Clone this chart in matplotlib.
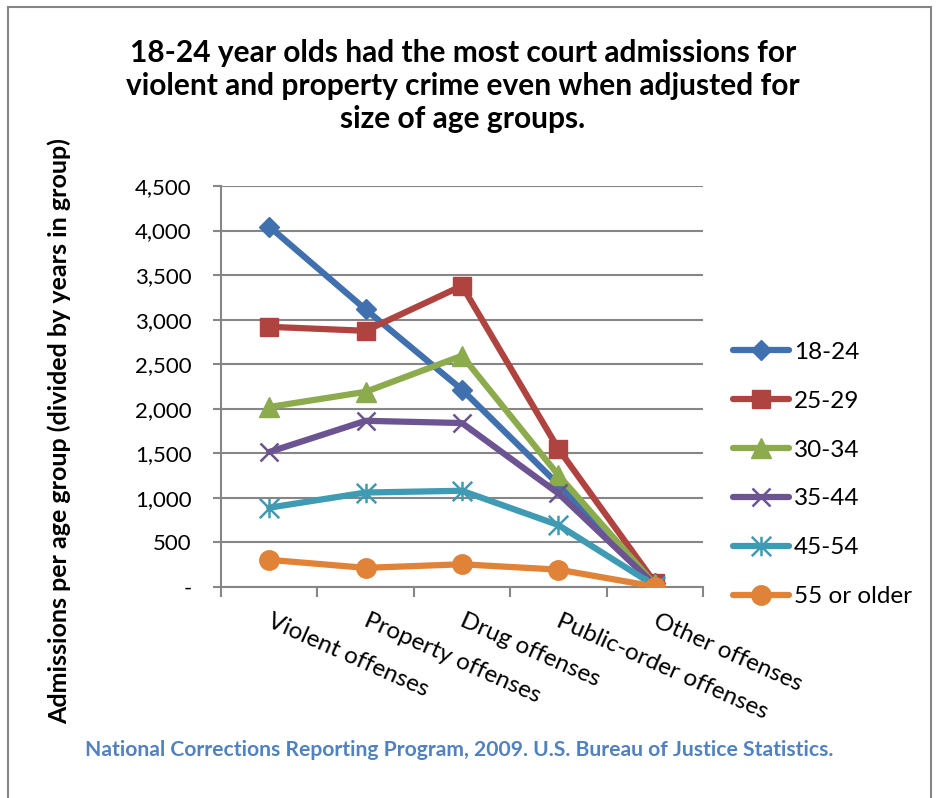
import matplotlib
matplotlib.use("Agg")
import matplotlib.pyplot as plt
from matplotlib.path import Path
from matplotlib.patches import Rectangle
from matplotlib.ticker import FuncFormatter, FixedLocator, MultipleLocator

plt.rcParams['font.family'] = ['Lato', 'DejaVu Sans']

categories = ["Violent offenses", "Property offenses", "Drug offenses",
              "Public-order offenses", "Other offenses"]
series_names = ["18-24", "25-29", "30-34", "35-44", "45-54", "55 or older"]
v_18_24 = [4045, 3115, 2215, 1150, 40]
v_25_29 = [2920, 2875, 3380, 1550, 50]
v_30_34 = [2020, 2190, 2595, 1255, 30]
v_35_44 = [1515, 1865, 1840, 1050, 25]
v_45_54 = [890, 1060, 1080, 695, 15]
v_55_up = [305, 215, 255, 195, 5]
values = [v_18_24, v_25_29, v_30_34, v_35_44, v_45_54, v_55_up]

colors = ["#4170AE", "#AE4340", "#8BAB4D", "#6C5391", "#3F9AB3", "#E08339"]

star = Path([(0, -1), (0, 1), (-1, -1), (1, 1), (-1, 1), (1, -1)],
            [Path.MOVETO, Path.LINETO, Path.MOVETO, Path.LINETO, Path.MOVETO, Path.LINETO])
markers = ["D", "s", "^", "x", star, "o"]
msizes = [10, 13, 14, 13, 14, 14]
mews = [1, 1, 1, 1.8, 1.8, 1]

W, H = 941, 798
fig = plt.figure(figsize=(W / 100, H / 100), dpi=100)
ax = fig.add_axes([221 / W, 1 - 587 / H, (703 - 221) / W, (587 - 186) / H])

x = list(range(len(categories)))
for vals, name, c, m, ms, mew in zip(values, series_names, colors, markers, msizes, mews):
    ax.plot(x, vals, color=c, lw=4.5, marker=m, markersize=ms,
            markerfacecolor=c, markeredgecolor=c, markeredgewidth=mew,
            label=name, solid_capstyle='round', zorder=3)

ax.set_xlim(-0.5, 4.5)
ax.set_ylim(0, 4500)
ax.yaxis.set_major_locator(MultipleLocator(500))
ax.yaxis.set_major_formatter(FuncFormatter(lambda v, p: "-" if v == 0 else f"{int(v):,}"))
ax.grid(axis='y', color='#868686', lw=1.5, zorder=0)
ax.set_axisbelow(True)
for s in ['top', 'right']:
    ax.spines[s].set_visible(False)
for s in ['left', 'bottom']:
    ax.spines[s].set_color('#868686')
    ax.spines[s].set_linewidth(1.5)
ax.tick_params(axis='y', length=6, width=1.5, color='#868686', labelsize=16, pad=15)
ax.xaxis.set_major_locator(FixedLocator([-0.5, 0.5, 1.5, 2.5, 3.5, 4.5]))
ax.xaxis.set_major_formatter(FuncFormatter(lambda v, p: ""))
ax.tick_params(axis='x', length=7, width=1.5, color='#868686')
for i, cat in enumerate(categories):
    ax.text(i + 0.04, -0.058, cat, transform=ax.get_xaxis_transform(),
            rotation=-24, rotation_mode='anchor', ha='left', va='top',
            fontsize=17.5, color='black')

ylab = fig.text(59 / W, 1 - 431 / H, "Admissions per age group (divided by years in group)",
                rotation=90, ha='center', va='center', fontsize=18, fontweight='bold')

fig.text(463 / W, 1 - 86 / H,
         "18-24 year olds had the most court admissions for\n"
         "violent and property crime even when adjusted for\n"
         "size of age groups.",
         ha='center', va='center', fontsize=21.5, fontweight='bold',
         linespacing=1.2)

fig.text(459 / W, 1 - 750 / H,
         "National Corrections Reporting Program, 2009. U.S. Bureau of Justice Statistics.",
         ha='center', va='center', fontsize=15.2, fontweight='bold', color='#5182C0')

leg = fig.legend(loc='center left', bbox_to_anchor=(733 / W, 1 - 474.5 / H),
                 frameon=False, fontsize=17.5, handlelength=2.3, handletextpad=0.2,
                 labelspacing=1.15, borderaxespad=0, borderpad=0)

fig.patches.append(Rectangle((8 / W, -0.05), (931 - 8) / W, 1.05 - 7 / H,
                             transform=fig.transFigure, fill=False,
                             edgecolor='#868686', lw=1.5))

fig.savefig("out.png", dpi=100)
